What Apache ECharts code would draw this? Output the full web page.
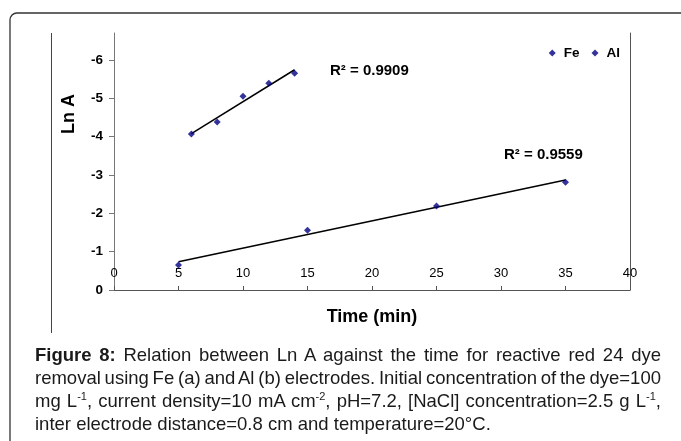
<!DOCTYPE html>
<html>
<head>
<meta charset="utf-8">
<script src="https://cdn.jsdelivr.net/npm/echarts@6/dist/echarts.min.js"></script>
<style>
  html, body { margin: 0; padding: 0; background: #fff; }
  #wrap { position: relative; width: 681px; height: 441px; overflow: hidden; }
  #chart { position: absolute; left: 0; top: 0; width: 681px; height: 441px; }
  #caption { position: absolute; left: 35px; top: 343px; width: 626px;
    font-family: "Liberation Sans", Arial, sans-serif; font-size: 18.5px; line-height: 23px; color: #1a1a1a; }
  #caption div { white-space: nowrap; }
  #caption div span { white-space: nowrap; }
  #caption sup { font-size: 11px; line-height: 0; vertical-align: 7px; }
</style>
</head>
<body>
<div id="wrap">
  <div id="chart"></div>
  <div id="caption">
    <div class="j"><span><b>Figure 8:</b> Relation between Ln A against the time for reactive red 24 dye</span></div>
    <div class="j"><span>removal using Fe (a) and Al (b) electrodes. Initial concentration of the dye=100</span></div>
    <div class="j"><span>mg L<sup>-1</sup>, current density=10 mA cm<sup>-2</sup>, pH=7.2, [NaCl] concentration=2.5 g L<sup>-1</sup>,</span></div>
    <div><span>inter electrode distance=0.8 cm and temperature=20°C.</span></div>
  </div>
</div>
<script>
// ---- data ----
var feTime = [6, 8, 10, 12, 14];
var feLnA = [-4.07, -4.38, -5.05, -5.39, -5.65];
var alTime = [5, 15, 25, 35];
var alLnA = [-0.65, -1.56, -2.19, -2.81];
var yTickValues = [-6, -5, -4, -3, -2, -1, 0];
var feR2Text = 'R² = 0.9909';
var alR2Text = 'R² = 0.9559';

// justify caption lines to the full width by adjusting word spacing
(function () {
  var W = 626;
  document.querySelectorAll('#caption div.j').forEach(function (d) {
    var s = d.querySelector('span');
    var w = s.getBoundingClientRect().width;
    var n = (s.textContent.match(/ /g) || []).length;
    if (n > 0) s.style.wordSpacing = ((W - w) / n) + 'px';
  });
})();

function pairs(xs, ys) { return xs.map(function (x, i) { return [x, ys[i]]; }); }
function trend(xs, ys) {
  var n = xs.length, mx = 0, my = 0;
  for (var i = 0; i < n; i++) { mx += xs[i]; my += ys[i]; }
  mx /= n; my /= n;
  var sxy = 0, sxx = 0;
  for (i = 0; i < n; i++) { sxy += (xs[i] - mx) * (ys[i] - my); sxx += (xs[i] - mx) * (xs[i] - mx); }
  var b = sxy / sxx, a = my - b * mx;
  var x0 = Math.min.apply(null, xs), x1 = Math.max.apply(null, xs);
  return [[x0, a + b * x0], [x1, a + b * x1]];
}

var FONT = '"Liberation Sans", Arial, sans-serif';
var chart = echarts.init(document.getElementById('chart'), null, { renderer: 'canvas' });
var option = {
  animation: false,
  backgroundColor: '#fff',
  textStyle: { fontFamily: FONT },
  grid: { left: 114, right: 51, top: 33, bottom: 151, containLabel: false },
  legend: {
    data: ['Fe', 'Al'],
    right: 61, top: 46, padding: 0,
    itemWidth: 7, itemHeight: 7, itemGap: 12,
    icon: 'diamond',
    textStyle: { fontFamily: FONT, fontWeight: 'bold', fontSize: 13.5, color: '#000', padding: [0, 0, 0, 3] }
  },
  xAxis: {
    type: 'value', min: 0, max: 40, interval: 5,
    name: 'Time (min)', nameLocation: 'middle', nameGap: 18,
    nameTextStyle: { fontFamily: FONT, fontWeight: 'bold', fontSize: 18, color: '#000' },
    axisLine: { show: true, onZero: false, lineStyle: { color: '#555', width: 1 } },
    axisTick: { show: true, inside: true, length: 4, lineStyle: { color: '#555' } },
    axisLabel: { inside: true, margin: 10, fontFamily: FONT, fontSize: 13, color: '#000' },
    splitLine: { show: false }
  },
  yAxis: [{
    type: 'value', inverse: true, min: -6.7, max: 0,
    axisLine: { show: true, lineStyle: { color: '#777', width: 1 } },
    axisTick: { show: true, length: 5, customValues: yTickValues, lineStyle: { color: '#777' } },
    axisLabel: { margin: 11, customValues: yTickValues, fontFamily: FONT, fontWeight: 'bold', fontSize: 13.5, color: '#000' },
    splitLine: { show: false }
  }, {
    type: 'value', position: 'right', inverse: true, min: -6.7, max: 0,
    axisLine: { show: true, lineStyle: { color: '#555', width: 1 } },
    axisTick: { show: false }, axisLabel: { show: false }, splitLine: { show: false }
  }],
  series: [
    { name: 'Fe', type: 'scatter', data: pairs(feTime, feLnA), symbol: 'diamond', symbolSize: 7,
      itemStyle: { color: '#000080' }, z: 3 },
    { name: 'Al', type: 'scatter', data: pairs(alTime, alLnA), symbol: 'diamond', symbolSize: 7,
      itemStyle: { color: '#000080' }, z: 3 },
    { name: 'Fe trend', type: 'line', data: trend(feTime, feLnA), showSymbol: false, symbol: 'none',
      lineStyle: { color: '#000', width: 1.5 }, z: 2 },
    { name: 'Al trend', type: 'line', data: trend(alTime, alLnA), showSymbol: false, symbol: 'none',
      lineStyle: { color: '#000', width: 1.5 }, z: 2 }
  ],
  graphic: [
    { type: 'rect', shape: { x: 10, y: 13, width: 700, height: 460, r: 7 }, silent: true,
      style: { fill: 'none', stroke: '#333', lineWidth: 1.3 } },
    { type: 'line', shape: { x1: 51.5, y1: 33, x2: 51.5, y2: 333 }, silent: true,
      style: { stroke: '#444', lineWidth: 1 } },
    { type: 'text', x: 69, y: 114, rotation: Math.PI / 2, silent: true,
      style: { text: 'Ln A', font: 'bold 18px ' + FONT, fill: '#000', align: 'center', verticalAlign: 'middle' } },
    { type: 'text', x: 330, y: 71, silent: true,
      style: { text: feR2Text, font: 'bold 15px ' + FONT, fill: '#000', align: 'left', verticalAlign: 'middle' } },
    { type: 'text', x: 504, y: 155, silent: true,
      style: { text: alR2Text, font: 'bold 15px ' + FONT, fill: '#000', align: 'left', verticalAlign: 'middle' } }
  ]
};
chart.setOption(option);
</script>
</body>
</html>
